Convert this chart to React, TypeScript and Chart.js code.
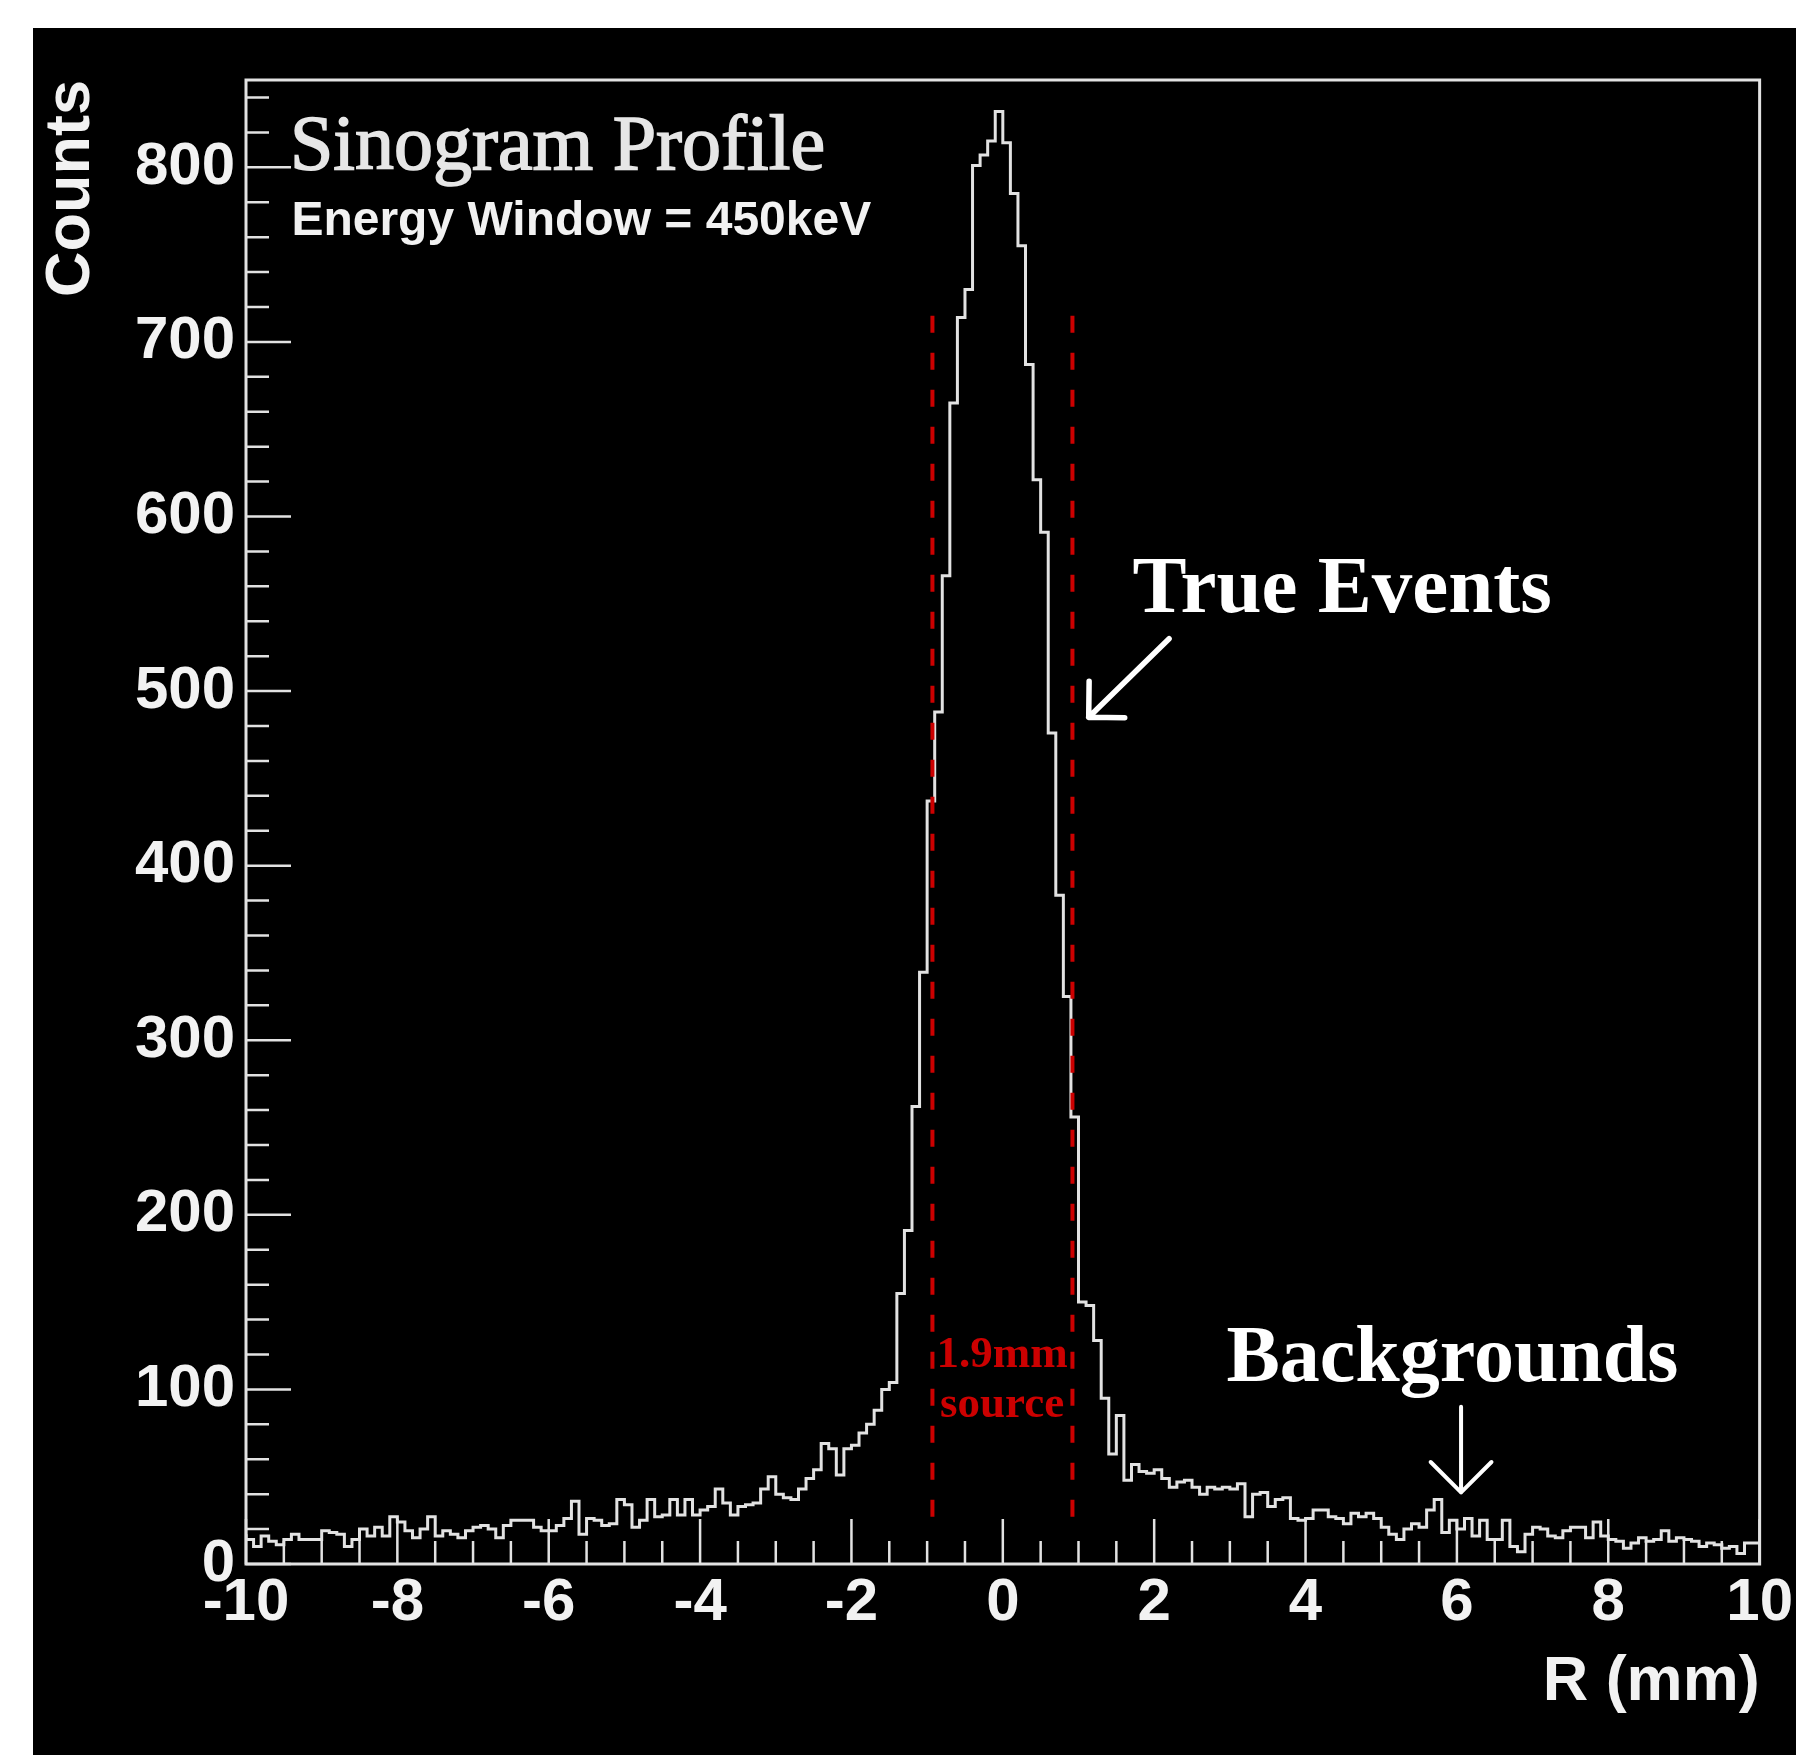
import React, { useEffect, useRef } from "react";
import { Chart, registerables } from "chart.js";

Chart.register(...registerables);

// ---------------- data ----------------
const binLowEdge = -10; // mm, left edge of first bin
const binWidth = 0.1; // mm
// counts per 0.1 mm bin, from R = -10 to R = +10 (200 bins)
const counts = [
  17, 14, 10, 16, 13, 11, 14, 17, 14, 14,
  14, 19, 18, 17, 10, 14, 20, 16, 21, 16,
  27, 24, 19, 15, 20, 27, 16, 19, 17, 15,
  19, 21, 22, 20, 15, 22, 25, 25, 25, 21,
  19, 19, 22, 26, 36, 17, 26, 25, 22, 23,
  37, 34, 21, 25, 37, 27, 28, 37, 28, 37,
  28, 31, 33, 43, 35, 28, 33, 34, 35, 43,
  50, 40, 38, 37, 43, 49, 54, 69, 66, 51,
  66, 68, 75, 80, 88, 100, 104, 155, 191, 262,
  339, 437, 488, 566, 665, 714, 730, 801, 807, 815,
  832, 814, 785, 755, 687, 621, 591, 476, 383, 325,
  256, 150, 148, 128, 95, 63, 85, 48, 57, 53,
  52, 54, 49, 44, 47, 48, 44, 40, 44, 43,
  44, 43, 46, 27, 40, 41, 33, 37, 38, 26,
  25, 26, 31, 31, 27, 26, 23, 29, 27, 29,
  26, 21, 17, 14, 20, 23, 21, 31, 37, 18,
  25, 20, 26, 16, 25, 14, 14, 25, 10, 7,
  17, 21, 20, 16, 15, 19, 21, 21, 15, 24,
  16, 14, 13, 9, 12, 15, 13, 14, 19, 13,
  15, 14, 13, 10, 12, 11, 9, 10, 6, 12,
];

const xRange = [-10, 10];
const yRange = [0, 850];
const xTickValues = [-10, -8, -6, -4, -2, 0, 2, 4, 6, 8, 10];
const xTickLabels = ["-10", "-8", "-6", "-4", "-2", "0", "2", "4", "6", "8", "10"];
const yTickValues = [0, 100, 200, 300, 400, 500, 600, 700, 800];
const yTickLabels = ["0", "100", "200", "300", "400", "500", "600", "700", "800"];
const xMinorStep = 0.5;
const yMinorStep = 20;

// 1.9 mm source boundaries (mm) and vertical extent (counts)
const sourceEdges = [-0.93, 0.92];
const sourceSpan = [20, 715];

const titleText = "Sinogram Profile";
const subtitleText = "Energy Window = 450keV";
const xTitle = "R (mm)";
const yTitle = "Counts";

// annotation anchors in data coordinates [x (mm), y (counts)]
const titlePos = [-9.42, 799];
const subtitlePos = [-9.4, 761];
const trueEventsPos = [1.715, 545];
const trueArrowFrom = [2.197, 530];
const trueArrowTo = [1.135, 485];
const backgroundsPos = [2.955, 105];
const bgArrowFrom = [6.055, 90];
const bgArrowTo = [6.055, 41];
const sourceLabelLines = ["1.9mm", "source"];
const sourceLabelX = -0.01;
const sourceLabelY = [113, 84];

// ---------------- styles ----------------
const W = 1796;
const H = 1755;
const FG = "#f2f2f2";
const LINE = "#e2e2e2";
const RED = "#cc0000";
const SANS = "'Liberation Sans', Arial, sans-serif";
const SERIF = "'Liberation Serif', 'Times New Roman', serif";

function drawArrow(ctx: CanvasRenderingContext2D, x0: number, y0: number, x1: number, y1: number, head: number, lw: number) {
  ctx.save();
  ctx.strokeStyle = "#ffffff";
  ctx.lineWidth = lw;
  ctx.lineCap = "round";
  ctx.lineJoin = "round";
  ctx.beginPath();
  ctx.moveTo(x0, y0);
  ctx.lineTo(x1, y1);
  const ang = Math.atan2(y0 - y1, x0 - x1);
  for (const d of [Math.PI / 4, -Math.PI / 4]) {
    ctx.moveTo(x1, y1);
    ctx.lineTo(x1 + head * Math.cos(ang + d), y1 + head * Math.sin(ang + d));
  }
  ctx.stroke();
  ctx.restore();
}

const decorPlugin = {
  id: "decor",
  beforeDraw(chart: any) {
    const ctx = chart.ctx as CanvasRenderingContext2D;
    ctx.save();
    ctx.fillStyle = "#ffffff";
    ctx.fillRect(0, 0, W, H);
    ctx.fillStyle = "#000000";
    ctx.fillRect(33, 28, W - 33, H - 28);
    ctx.restore();
  },
  afterDraw(chart: any) {
    const ctx = chart.ctx as CanvasRenderingContext2D;
    const a = chart.chartArea;
    const xs = chart.scales.x;
    const ys = chart.scales.y;
    ctx.save();
    // frame
    ctx.strokeStyle = LINE;
    ctx.lineWidth = 3;
    ctx.strokeRect(a.left, a.top, a.right - a.left, a.bottom - a.top);

    // y ticks (inside)
    ctx.lineWidth = 2.5;
    ctx.beginPath();
    const nY = Math.round((yRange[1] - yRange[0]) / yMinorStep);
    for (let i = 0; i <= nY; i++) {
      const v = yRange[0] + i * yMinorStep;
      if (v > yRange[1]) break;
      const py = ys.getPixelForValue(v);
      const len = v % 100 === 0 ? 45 : 23;
      ctx.moveTo(a.left, py);
      ctx.lineTo(a.left + len, py);
    }
    // x ticks (inside)
    const nX = Math.round((xRange[1] - xRange[0]) / xMinorStep);
    for (let i = 0; i <= nX; i++) {
      const v = xRange[0] + i * xMinorStep;
      const px = xs.getPixelForValue(v);
      const len = i % 4 === 0 ? 45 : 23;
      ctx.moveTo(px, a.bottom);
      ctx.lineTo(px, a.bottom - len);
    }
    ctx.stroke();

    // red dashed source boundaries
    ctx.strokeStyle = RED;
    ctx.lineWidth = 4;
    ctx.setLineDash([17, 20]);
    ctx.beginPath();
    for (const e of sourceEdges) {
      const px = xs.getPixelForValue(e);
      ctx.moveTo(px, ys.getPixelForValue(sourceSpan[1]));
      ctx.lineTo(px, ys.getPixelForValue(sourceSpan[0]));
    }
    ctx.stroke();
    ctx.setLineDash([]);

    // source label
    ctx.fillStyle = RED;
    ctx.font = `bold 45px ${SERIF}`;
    ctx.textAlign = "center";
    ctx.textBaseline = "alphabetic";
    sourceLabelLines.forEach((t, i) => {
      ctx.fillText(t, xs.getPixelForValue(sourceLabelX), ys.getPixelForValue(sourceLabelY[i]));
    });

    // titles in plot
    ctx.textAlign = "left";
    ctx.fillStyle = "#e6e6e6";
    ctx.strokeStyle = "#e6e6e6";
    ctx.lineWidth = 1.6;
    ctx.font = `78px ${SERIF}`;
    const tx = xs.getPixelForValue(titlePos[0]);
    const ty = ys.getPixelForValue(titlePos[1]);
    ctx.fillText(titleText, tx, ty);
    ctx.strokeText(titleText, tx, ty);
    ctx.fillStyle = FG;
    ctx.font = `bold 48px ${SANS}`;
    ctx.fillText(subtitleText, xs.getPixelForValue(subtitlePos[0]), ys.getPixelForValue(subtitlePos[1]));

    // annotations
    ctx.fillStyle = "#ffffff";
    ctx.font = `bold 81px ${SERIF}`;
    ctx.fillText("True Events", xs.getPixelForValue(trueEventsPos[0]), ys.getPixelForValue(trueEventsPos[1]));
    ctx.font = `bold 80px ${SERIF}`;
    ctx.fillText("Backgrounds", xs.getPixelForValue(backgroundsPos[0]), ys.getPixelForValue(backgroundsPos[1]));
    ctx.restore();

    drawArrow(
      ctx,
      xs.getPixelForValue(trueArrowFrom[0]), ys.getPixelForValue(trueArrowFrom[1]),
      xs.getPixelForValue(trueArrowTo[0]), ys.getPixelForValue(trueArrowTo[1]),
      36, 5.5
    );
    drawArrow(
      ctx,
      xs.getPixelForValue(bgArrowFrom[0]), ys.getPixelForValue(bgArrowFrom[1]),
      xs.getPixelForValue(bgArrowTo[0]), ys.getPixelForValue(bgArrowTo[1]),
      43, 4
    );
  },
};

export default function App() {
  const ref = useRef<HTMLCanvasElement | null>(null);

  useEffect(() => {
    if (!ref.current) return;
    const points = counts.map((c, i) => ({ x: binLowEdge + i * binWidth, y: c }));
    points.push({ x: binLowEdge + counts.length * binWidth, y: counts[counts.length - 1] });

    const tickFont = { family: SANS, size: 60, weight: "bold" as const, lineHeight: 1.2 };
    const titleFont = { family: SANS, size: 63, weight: "bold" as const, lineHeight: 1 };

    const chart = new Chart(ref.current, {
      type: "line",
      data: {
        datasets: [
          {
            data: points,
            stepped: "after",
            borderColor: LINE,
            borderWidth: 3,
            pointRadius: 0,
            fill: false,
            tension: 0,
          },
        ],
      },
      options: {
        animation: false,
        responsive: false,
        devicePixelRatio: 1,
        events: [],
        layout: { padding: { top: 80, right: 34, left: 0, bottom: 0 } },
        plugins: { legend: { display: false }, tooltip: { enabled: false } },
        scales: {
          x: {
            type: "linear",
            position: "bottom",
            min: xRange[0],
            max: xRange[1],
            grid: { display: false, drawTicks: false, tickLength: 0 },
            border: { display: false },
            afterBuildTicks: (s: any) => {
              s.ticks = xTickValues.map((v) => ({ value: v }));
            },
            afterFit: (s: any) => {
              s.height = 191;
            },
            ticks: {
              autoSkip: false,
              maxRotation: 0,
              minRotation: 0,
              color: FG,
              font: tickFont,
              padding: 3,
              callback: (v: any) => {
                const i = xTickValues.indexOf(Number(v));
                return i >= 0 ? xTickLabels[i] : "";
              },
            },
            title: {
              display: true,
              text: xTitle,
              align: "end",
              color: FG,
              font: titleFont,
              padding: { top: 0, bottom: 41 },
            },
          },
          y: {
            type: "linear",
            position: "left",
            min: yRange[0],
            max: yRange[1],
            grid: { display: false, drawTicks: false, tickLength: 0 },
            border: { display: false },
            afterBuildTicks: (s: any) => {
              s.ticks = yTickValues.map((v) => ({ value: v }));
            },
            afterFit: (s: any) => {
              s.width = 246;
            },
            ticks: {
              autoSkip: false,
              color: FG,
              font: tickFont,
              padding: 11,
              callback: (v: any) => {
                const i = yTickValues.indexOf(Number(v));
                return i >= 0 ? yTickLabels[i] : "";
              },
            },
            title: {
              display: true,
              text: yTitle,
              align: "end",
              color: FG,
              font: titleFont,
              padding: { top: 40, bottom: 0 },
            },
          },
        },
      },
      plugins: [decorPlugin],
    } as any);

    return () => chart.destroy();
  }, []);

  return (
    <div style={{ position: "absolute", left: 0, top: 0, width: W, height: H, background: "#ffffff" }}>
      <canvas ref={ref} width={W} height={H} style={{ display: "block", width: W, height: H }} />
    </div>
  );
}
